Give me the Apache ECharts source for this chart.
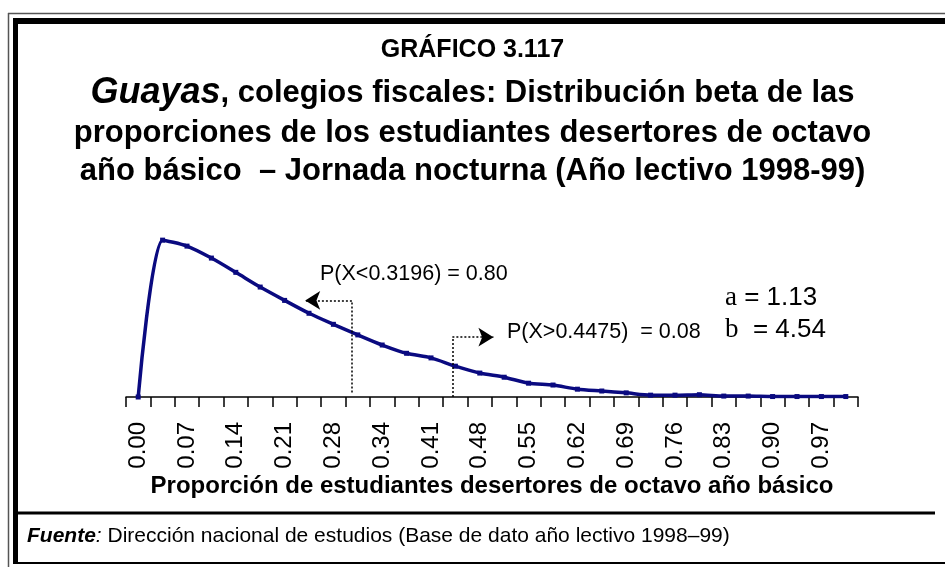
<!DOCTYPE html>
<html>
<head>
<meta charset="utf-8">
<script src="https://cdn.jsdelivr.net/npm/echarts@6/dist/echarts.min.js"></script>
<style>
  html, body { margin: 0; padding: 0; background: #fff; }
  #chart { width: 945px; height: 567px; }
</style>
</head>
<body>
<div id="chart"></div>
<script>
// proporciones (categorías del eje x), paso 1/29
const proporciones = [
  '0.00', '0.03', '0.07', '0.10', '0.14', '0.17', '0.21', '0.24', '0.28', '0.31',
  '0.34', '0.38', '0.41', '0.45', '0.48', '0.52', '0.55', '0.59', '0.62', '0.66',
  '0.69', '0.72', '0.76', '0.79', '0.83', '0.86', '0.90', '0.93', '0.97', '1.00'
];

// densidad beta
const densidad = [
  0, 3.41, 3.28, 3.02, 2.71, 2.39, 2.10, 1.82, 1.58, 1.35,
  1.13, 0.95, 0.85, 0.67, 0.52, 0.43, 0.30, 0.26, 0.17, 0.13,
  0.09, 0.04, 0.04, 0.05, 0.02, 0.02, 0.01, 0.01, 0.01, 0.01
];

// marcas de probabilidad: [x, altura de la línea, x de la punta de flecha]
const marcaInferior = [0.302, 2.10, 0.236];
const marcaSuperior = [0.444, 1.30, 0.502];

const chart = echarts.init(document.getElementById('chart'));

const n = proporciones.length - 1;
const font = '"Liberation Sans", Arial, sans-serif';
const serif = '"Liberation Serif", "DejaVu Serif", serif';

const tituloLinea = (text, top) => ({
  text,
  left: 'center',
  top,
  textStyle: {
    fontFamily: font,
    fontSize: 31,
    fontWeight: 'bold',
    color: '#000',
    rich: {
      g: { fontFamily: font, fontSize: 36, fontWeight: 'bold', fontStyle: 'italic', color: '#000' },
      b: { fontFamily: font, fontSize: 31, fontWeight: 'bold', color: '#000' }
    }
  }
});

const option = {
  animation: false,
  backgroundColor: '#fff',
  textStyle: { fontFamily: font },
  title: [
    {
      text: 'GRÁFICO 3.117',
      left: 'center',
      top: 33,
      textStyle: { fontFamily: font, fontSize: 25, fontWeight: 'bold', color: '#000' }
    },
    tituloLinea('{g|Guayas}{b|, colegios fiscales: Distribución beta de las}', 70),
    tituloLinea('proporciones de los estudiantes desertores de octavo', 113),
    tituloLinea('año básico  – Jornada nocturna (Año lectivo 1998-99)', 151)
  ],
  grid: { left: 126, right: 87, top: 213, bottom: 170 },
  xAxis: [
    {
      type: 'category',
      data: proporciones,
      boundaryGap: true,
      axisLine: { lineStyle: { color: '#000', width: 1.5 } },
      axisTick: { show: true, interval: 0, length: 10, lineStyle: { color: '#000', width: 1.5 } },
      axisLabel: {
        interval: 1,
        rotate: 90,
        margin: 25,
        color: '#000',
        fontSize: 24,
        fontFamily: font
      },
      name: 'Proporción de estudiantes desertores de octavo año básico',
      nameLocation: 'middle',
      nameGap: 77,
      nameTextStyle: { color: '#000', fontSize: 24, fontWeight: 'bold', fontFamily: font }
    },
    {
      type: 'value',
      show: false,
      min: -0.5 / n,
      max: (n + 0.5) / n
    }
  ],
  yAxis: {
    type: 'value',
    min: 0,
    max: 4,
    show: false
  },
  series: [
    {
      name: 'Beta',
      type: 'line',
      data: densidad,
      smooth: 0.25,
      symbol: 'rect',
      symbolSize: 5,
      itemStyle: { color: '#0a0a80' },
      lineStyle: { color: '#0a0a80', width: 3.5 },
      z: 3
    },
    {
      name: 'marcas',
      type: 'line',
      xAxisIndex: 1,
      data: [],
      markLine: {
        silent: true,
        animation: false,
        lineStyle: { color: '#000', type: [2, 2], width: 1.5 },
        label: { show: false },
        symbolSize: [14, 15],
        data: [
          [
            { coord: [marcaInferior[0], 0.1], symbol: 'none' },
            { coord: [marcaInferior[0], marcaInferior[1]], symbol: 'none' }
          ],
          [
            { coord: [marcaInferior[0], marcaInferior[1]], symbol: 'none' },
            { coord: [marcaInferior[2], marcaInferior[1]], symbol: 'arrow' }
          ],
          [
            { coord: [marcaSuperior[0], 0], symbol: 'none' },
            { coord: [marcaSuperior[0], marcaSuperior[1]], symbol: 'none' }
          ],
          [
            { coord: [marcaSuperior[0], marcaSuperior[1]], symbol: 'none' },
            { coord: [marcaSuperior[2], marcaSuperior[1]], symbol: 'arrow' }
          ]
        ]
      }
    }
  ],
  graphic: [
    // marco doble
    { type: 'line', shape: { x1: 8, y1: 13.5, x2: 945, y2: 13.5 }, style: { stroke: '#555', lineWidth: 1.5 } },
    { type: 'line', shape: { x1: 8.5, y1: 13, x2: 8.5, y2: 567 }, style: { stroke: '#555', lineWidth: 1.5 } },
    { type: 'line', shape: { x1: 13, y1: 21, x2: 945, y2: 21 }, style: { stroke: '#000', lineWidth: 6 } },
    { type: 'line', shape: { x1: 15.5, y1: 18, x2: 15.5, y2: 564 }, style: { stroke: '#000', lineWidth: 5 } },
    { type: 'line', shape: { x1: 13, y1: 563, x2: 945, y2: 563 }, style: { stroke: '#000', lineWidth: 2 } },
    // separador de fuente
    { type: 'line', shape: { x1: 17, y1: 513, x2: 935, y2: 513 }, style: { stroke: '#000', lineWidth: 3 } },
    {
      type: 'text', left: 27, top: 526,
      style: {
        text: '{fb|Fuente}{fi|:}{fr| Dirección nacional de estudios (Base de dato año lectivo 1998–99)}',
        rich: {
          fb: { fontFamily: font, fontSize: 21, fontWeight: 'bold', fontStyle: 'italic', fill: '#000' },
          fi: { fontFamily: font, fontSize: 21, fontStyle: 'italic', fill: '#000' },
          fr: { fontFamily: font, fontSize: 21, fill: '#000' }
        }
      }
    },
    // anotaciones
    {
      type: 'text', left: 320, top: 263,
      style: { text: 'P(X<0.3196) = 0.80', font: '21.5px ' + font, fill: '#000' }
    },
    {
      type: 'text', left: 507, top: 321,
      style: { text: 'P(X>0.4475)  = 0.08', font: '21.5px ' + font, fill: '#000' }
    },
    {
      type: 'text', left: 725, top: 284,
      style: {
        text: '{s|a}{t| = 1.13}',
        rich: {
          s: { fontFamily: serif, fontSize: 27, fill: '#000' },
          t: { fontFamily: font, fontSize: 26, fill: '#000' }
        }
      }
    },
    {
      type: 'text', left: 725, top: 316,
      style: {
        text: '{s|b}{t|  = 4.54}',
        rich: {
          s: { fontFamily: serif, fontSize: 27, fill: '#000' },
          t: { fontFamily: font, fontSize: 26, fill: '#000' }
        }
      }
    }
  ]
};

chart.setOption(option);
</script>
</body>
</html>
